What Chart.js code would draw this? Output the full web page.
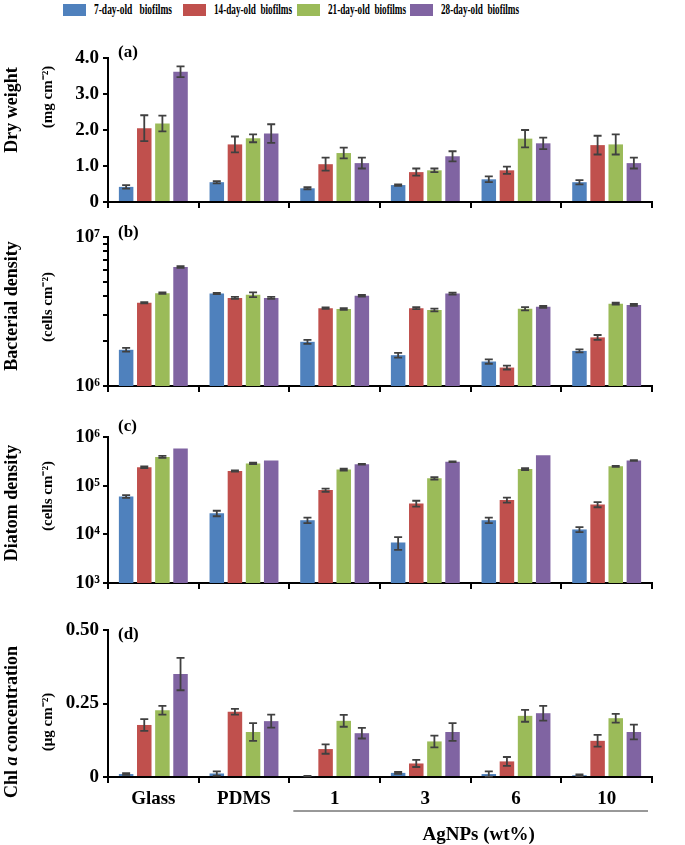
<!DOCTYPE html>
<html>
<head>
<meta charset="utf-8">
<script src="https://cdn.jsdelivr.net/npm/chart.js@4.4.1/dist/chart.umd.min.js"></script>
<style>
  body { margin: 0; background: #fff; }
  #wrap { position: relative; width: 685px; height: 845px; overflow: hidden; background: #fff; }
  canvas { position: absolute; left: 0; }
  .lg-box { position: absolute; top: 4px; width: 23px; height: 12px; }
  .lg-txt { position: absolute; top: 1px; font: bold 15px "Liberation Serif", serif; white-space: pre;
            transform-origin: left center; color: #000; z-index: 2; }
</style>
</head>
<body>
<div id="wrap">
  <div id="legend"></div>
  <canvas id="chartA"></canvas>
  <canvas id="chartB"></canvas>
  <canvas id="chartC"></canvas>
  <canvas id="chartD"></canvas>
</div>
<script>
// categories and series
const categories = ['Glass', 'PDMS', '1', '3', '6', '10'];
const seriesNames = ['7-day-old   biofilms', '14-day-old  biofilms', '21-day-old  biofilms', '28-day-old  biofilms'];
const seriesColors = ['#4F81BD', '#C0504D', '#9BBB59', '#8064A2'];

// (a) dry weight, mg cm-2
const dry7 = [0.42, 0.55, 0.38, 0.47, 0.63, 0.55];
const dry14 = [2.05, 1.60, 1.05, 0.83, 0.88, 1.58];
const dry21 = [2.18, 1.77, 1.36, 0.88, 1.76, 1.60];
const dry28 = [3.62, 1.90, 1.08, 1.27, 1.63, 1.08];
const dryErr7 = [0.05, 0.03, 0.03, 0.02, 0.08, 0.06];
const dryErr14 = [0.36, 0.22, 0.18, 0.10, 0.10, 0.26];
const dryErr21 = [0.22, 0.11, 0.15, 0.05, 0.24, 0.28];
const dryErr28 = [0.15, 0.26, 0.15, 0.14, 0.16, 0.15];

// (b) bacterial density, cells cm-2
const bac7 = [1.75e6, 4.17e6, 1.98e6, 1.61e6, 1.46e6, 1.72e6];
const bac14 = [3.62e6, 3.90e6, 3.33e6, 3.33e6, 1.33e6, 2.12e6];
const bac21 = [4.20e6, 4.10e6, 3.29e6, 3.24e6, 3.30e6, 3.57e6];
const bac28 = [6.30e6, 3.90e6, 4.03e6, 4.17e6, 3.40e6, 3.50e6];
const bacErr7 = [0.05e6, 0.04e6, 0.06e6, 0.06e6, 0.05e6, 0.04e6];
const bacErr14 = [0.04e6, 0.06e6, 0.04e6, 0.05e6, 0.04e6, 0.08e6];
const bacErr21 = [0.04e6, 0.15e6, 0.04e6, 0.07e6, 0.08e6, 0.05e6];
const bacErr28 = [0.08e6, 0.06e6, 0.05e6, 0.06e6, 0.05e6, 0.05e6];
const bacTicks = [1e6, 2e6, 3e6, 4e6, 5e6, 6e6, 7e6, 8e6, 9e6, 1e7];

// (c) diatom density, cells cm-2
const dia7 = [6.0e4, 2.7e4, 1.95e4, 6.8e3, 1.95e4, 1.26e4];
const dia14 = [2.4e5, 2.0e5, 8.1e4, 4.3e4, 5.1e4, 4.1e4];
const dia21 = [3.9e5, 2.86e5, 2.15e5, 1.42e5, 2.2e5, 2.5e5];
const dia28 = [5.8e5, 3.3e5, 2.75e5, 3.1e5, 4.2e5, 3.3e5];
const diaErr7 = [4e3, 3.5e3, 2.5e3, 2e3, 2.5e3, 1.5e3];
const diaErr14 = [1e4, 6e3, 6e3, 6e3, 6e3, 5e3];
const diaErr21 = [1.8e4, 1e4, 1e4, 8e3, 1e4, 6e3];
const diaErr28 = [0, 0, 5e3, 5e3, 0, 6e3];
const diaTicks = [1e3, 1e4, 1e5, 1e6];

// (d) chl a, ug cm-2
const chl7 = [0.010, 0.012, 0.003, 0.014, 0.010, 0.006];
const chl14 = [0.177, 0.222, 0.095, 0.046, 0.053, 0.123];
const chl21 = [0.227, 0.153, 0.191, 0.121, 0.208, 0.200];
const chl28 = [0.350, 0.190, 0.149, 0.153, 0.217, 0.153];
const chlErr7 = [0.003, 0.007, 0.001, 0.003, 0.009, 0.003];
const chlErr14 = [0.020, 0.010, 0.016, 0.012, 0.015, 0.020];
const chlErr21 = [0.015, 0.030, 0.020, 0.020, 0.020, 0.015];
const chlErr28 = [0.055, 0.022, 0.018, 0.030, 0.025, 0.025];

const SERIF = '"Liberation Serif", "Times New Roman", serif';
Chart.defaults.font.family = SERIF;
Chart.defaults.font.weight = 'bold';
Chart.defaults.color = '#000';

// legend (html), text squeezed to the width it has in the figure
const legendX = [63, 183, 297, 410];
const legendTextWidth = 78;
const legend = document.getElementById('legend');
seriesNames.forEach((name, i) => {
  const box = document.createElement('div');
  box.className = 'lg-box';
  box.style.left = legendX[i] + 'px';
  box.style.background = seriesColors[i];
  legend.appendChild(box);
  const txt = document.createElement('div');
  txt.className = 'lg-txt';
  txt.style.left = (legendX[i] + 31) + 'px';
  txt.textContent = name;
  legend.appendChild(txt);
  const w = txt.getBoundingClientRect().width;
  if (w > 0) txt.style.transform = 'scaleX(' + (legendTextWidth / w).toFixed(3) + ')';
});

const SUP = {'0':'\u2070','1':'\u00b9','2':'\u00b2','3':'\u00b3','4':'\u2074','5':'\u2075','6':'\u2076','7':'\u2077','8':'\u2078','9':'\u2079'};
function powLabel(value) {
  const e = Math.log10(value);
  if (Math.abs(e - Math.round(e)) > 1e-9) return '';
  return '10' + String(Math.round(e)).split('').map(c => SUP[c]).join('');
}

// error bars drawn through the y scale
const errorBars = {
  id: 'errorBars',
  afterDatasetsDraw(chart) {
    const ctx = chart.ctx;
    const y = chart.scales.y;
    ctx.save();
    ctx.strokeStyle = '#404040';
    ctx.lineWidth = 1.8;
    chart.data.datasets.forEach((ds, i) => {
      const meta = chart.getDatasetMeta(i);
      meta.data.forEach((bar, j) => {
        const err = ds.errors[j];
        if (!err) return;
        const v = ds.data[j];
        const top = y.getPixelForValue(v + err);
        const bot = y.getPixelForValue(Math.max(v - err, y.min));
        ctx.beginPath();
        ctx.moveTo(bar.x, top); ctx.lineTo(bar.x, bot);
        ctx.moveTo(bar.x - 4, top); ctx.lineTo(bar.x + 4, top);
        ctx.moveTo(bar.x - 4, bot); ctx.lineTo(bar.x + 4, bot);
        ctx.stroke();
      });
    });
    ctx.restore();
  }
};

// side titles, panel letter, and the AgNPs group label
const panelText = {
  id: 'panelText',
  afterDraw(chart, args, opts) {
    const ctx = chart.ctx, area = chart.chartArea;
    ctx.save();
    ctx.fillStyle = '#000';
    ctx.textBaseline = 'middle';
    (opts.titles || []).forEach(t => {
      ctx.save();
      ctx.translate(t.x, area.top + t.dy);
      ctx.rotate(-Math.PI / 2);
      let total = 0;
      t.parts.forEach(p => {
        ctx.font = (p.italic ? 'italic ' : '') + 'bold ' + t.size + 'px ' + SERIF;
        total += ctx.measureText(p.text).width;
      });
      let x = -total / 2;
      t.parts.forEach(p => {
        ctx.font = (p.italic ? 'italic ' : '') + 'bold ' + t.size + 'px ' + SERIF;
        ctx.fillText(p.text, x, 0);
        x += ctx.measureText(p.text).width;
      });
      ctx.restore();
    });
    ctx.font = 'bold 17px ' + SERIF;
    ctx.textAlign = 'left';
    ctx.fillText(opts.label, area.left + 10, area.top + opts.labelDy);
    if (opts.group) {
      const xs = chart.scales.x;
      const w = xs.width / categories.length;
      const x1 = xs.left + 2 * w + 4, x2 = xs.right - 4;
      const ly = area.bottom + 34;
      ctx.strokeStyle = '#333';
      ctx.lineWidth = 1;
      ctx.beginPath(); ctx.moveTo(x1, ly); ctx.lineTo(x2, ly); ctx.stroke();
      ctx.font = 'bold 19px ' + SERIF;
      ctx.textAlign = 'center';
      ctx.fillText(opts.group, (x1 + x2) / 2 + 8, area.bottom + 58);
    }
    ctx.restore();
  }
};

function datasets(vals, errs) {
  return vals.map((v, i) => ({
    label: seriesNames[i],
    data: v,
    errors: errs[i],
    backgroundColor: seriesColors[i],
    borderWidth: 0,
    barPercentage: 0.8,
    categoryPercentage: 0.8
  }));
}

function makePanel(id, top, height, padTop, xHeight, vals, errs, yOpts, textOpts, showX) {
  const cv = document.getElementById(id);
  cv.width = 685; cv.height = height;
  cv.style.top = top + 'px';
  cv.style.width = '685px'; cv.style.height = height + 'px';
  return new Chart(cv, {
    type: 'bar',
    data: { labels: categories, datasets: datasets(vals, errs) },
    options: {
      responsive: false,
      animation: false,
      layout: { padding: { top: padTop, right: 33, left: 0, bottom: 0 } },
      plugins: { legend: { display: false }, tooltip: { enabled: false }, panelText: textOpts },
      scales: {
        x: {
          grid: { offset: true, drawOnChartArea: false, color: '#000', tickLength: 6, lineWidth: 2 },
          border: { color: '#000', width: 2 },
          ticks: { display: showX, font: { size: 19, weight: 'bold' }, color: '#000', padding: 5 },
          afterFit(s) { s.height = xHeight; }
        },
        y: Object.assign({
          grid: { drawOnChartArea: false, color: '#000', tickLength: 5, lineWidth: 2 },
          border: { color: '#000', width: 2 },
          afterFit(s) { s.width = 108; }
        }, yOpts)
      }
    },
    plugins: [errorBars, panelText]
  });
}

const tickFont = { size: 19, weight: 'bold' };

makePanel('chartA', 40, 180, 18, 18,
  [dry7, dry14, dry21, dry28], [dryErr7, dryErr14, dryErr21, dryErr28],
  { min: 0, max: 4, ticks: { stepSize: 1, font: tickFont, color: '#000', padding: 4,
      callback: v => v === 0 ? '0' : v.toFixed(1) } },
  { label: '(a)', labelDy: -5, titles: [
      { x: 12, dy: 52, size: 18, parts: [{ text: 'Dry weight' }] },
      { x: 48, dy: 39, size: 15, parts: [{ text: '(mg cm\u207b\u00b2)' }] } ] },
  false);

makePanel('chartB', 215, 190, 22, 19,
  [bac7, bac14, bac21, bac28], [bacErr7, bacErr14, bacErr21, bacErr28],
  { type: 'logarithmic', min: 1e6, max: 1e7,
    afterBuildTicks(s) { s.ticks = bacTicks.map(v => ({ value: v })); },
    ticks: { autoSkip: false, font: tickFont, color: '#000', padding: 3, callback: v => powLabel(v) } },
  { label: '(b)', labelDy: -4, titles: [
      { x: 12, dy: 69, size: 18, parts: [{ text: 'Bacterial density' }] },
      { x: 48, dy: 70, size: 15, parts: [{ text: '(cells cm\u207b\u00b2)' }] } ] },
  false);

makePanel('chartC', 410, 190, 27, 17,
  [dia7, dia14, dia21, dia28], [diaErr7, diaErr14, diaErr21, diaErr28],
  { type: 'logarithmic', min: 1e3, max: 1e6,
    afterBuildTicks(s) { s.ticks = diaTicks.map(v => ({ value: v })); },
    ticks: { autoSkip: false, font: tickFont, color: '#000', padding: 3, callback: v => powLabel(v) } },
  { label: '(c)', labelDy: -10, titles: [
      { x: 12, dy: 66, size: 18, parts: [{ text: 'Diatom density' }] },
      { x: 48, dy: 59, size: 15, parts: [{ text: '(cells cm\u207b\u00b2)' }] } ] },
  false);

makePanel('chartD', 605, 240, 25, 68,
  [chl7, chl14, chl21, chl28], [chlErr7, chlErr14, chlErr21, chlErr28],
  { min: 0, max: 0.5, ticks: { stepSize: 0.25, font: tickFont, color: '#000', padding: 4,
      callback: v => v === 0 ? '0' : v.toFixed(2) } },
  { label: '(d)', labelDy: 5, group: 'AgNPs (wt%)', titles: [
      { x: 12, dy: 92, size: 18, parts: [{ text: 'Chl ' }, { text: 'a', italic: true }, { text: ' concentration' }] },
      { x: 48, dy: 92, size: 15, parts: [{ text: '(\u03bcg cm\u207b\u00b2)' }] } ] },
  true);
</script>
</body>
</html>
